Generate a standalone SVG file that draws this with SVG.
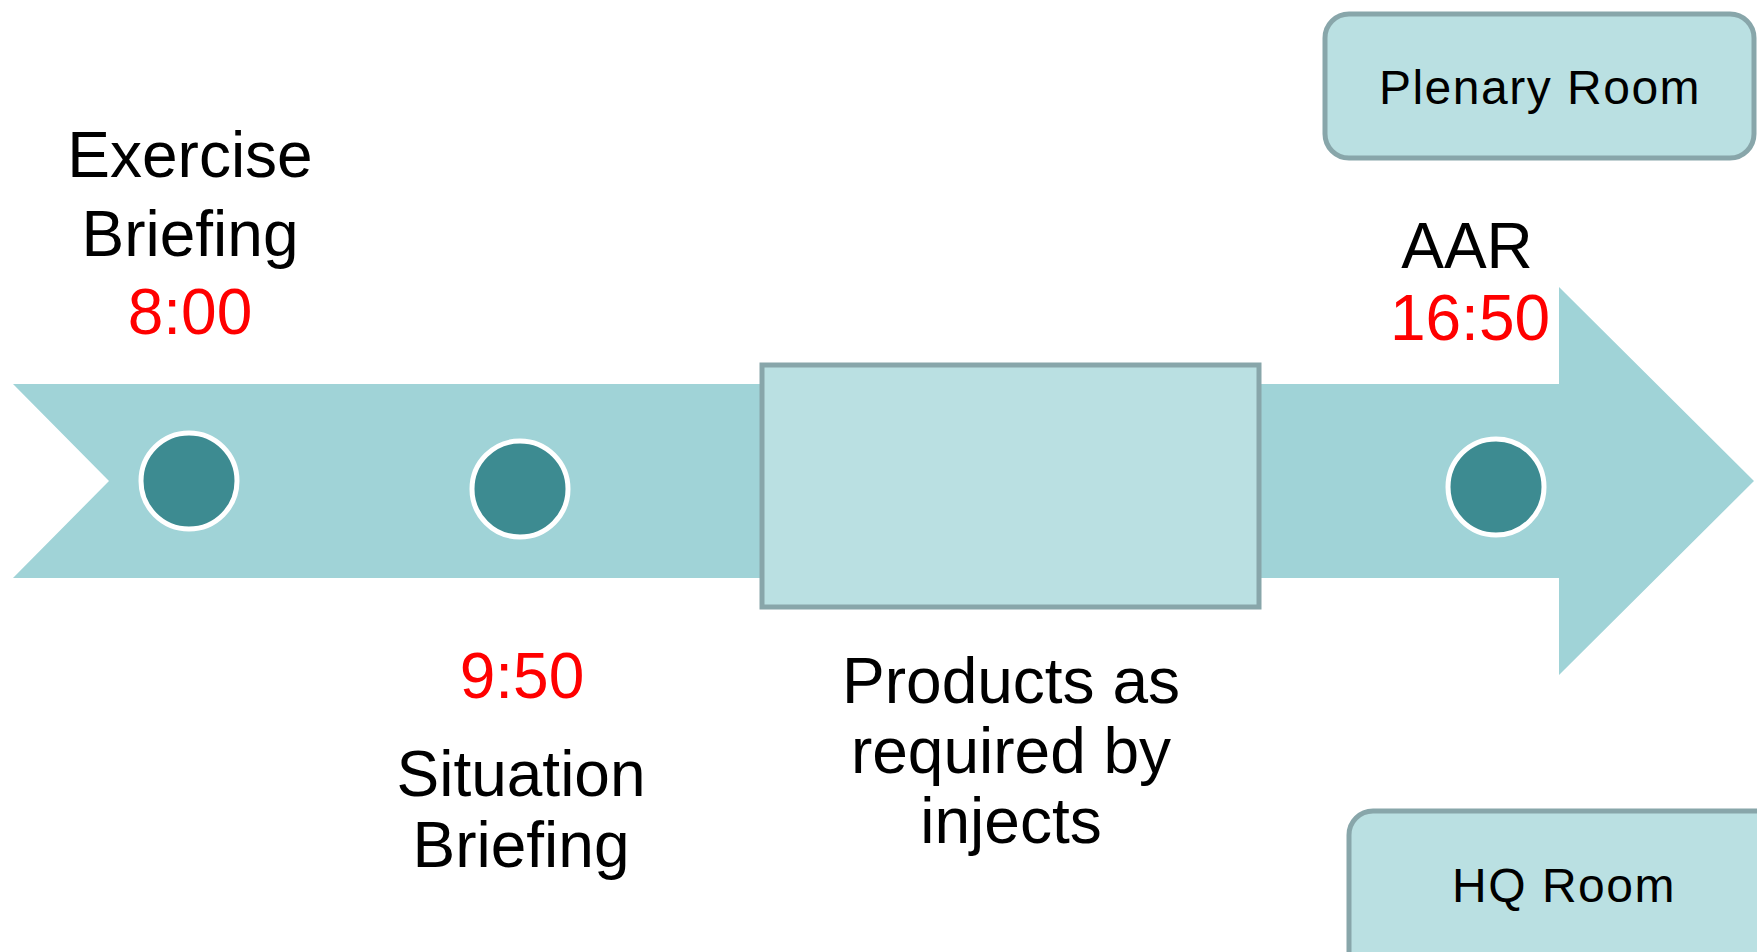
<svg xmlns="http://www.w3.org/2000/svg" width="1757" height="952" viewBox="0 0 1757 952">
<style>
.t{font-family:"Liberation Sans",Arial,sans-serif;font-size:64px;fill:#000;text-anchor:middle}
.r{fill:#FF0000}
.room{font-size:48px;letter-spacing:1.5px}
.box{fill:#BAE0E2;stroke:#88A6AA;stroke-width:5}
.dot{fill:#3D8B91;stroke:#FFFFFF;stroke-width:5}
</style>
<rect width="1757" height="952" fill="#FFFFFF"/>
<g id="arrow">
<polygon points="13,384 1559,384 1559,287 1754,481 1559,675 1559,578 13,578 109,481" fill="#A0D3D7"/>
</g>
<g id="connectors"></g>
<g id="products">
<rect class="box" x="762" y="365" width="497" height="242"/>
<text class="t" x="1011" y="703">Products as</text>
<text class="t" x="1011" y="773">required by</text>
<text class="t" x="1011" y="843">injects</text>
</g>
<g id="exercise-briefing">
<circle class="dot" cx="189" cy="481" r="48"/>
<text class="t" x="190" y="177">Exercise</text>
<text class="t" x="190" y="256">Briefing</text>
<text class="t r" x="190" y="334">8:00</text>
</g>
<g id="situation-briefing">
<circle class="dot" cx="520" cy="489" r="48"/>
<text class="t r" x="522" y="698">9:50</text>
<text class="t" x="521" y="796">Situation</text>
<text class="t" x="521" y="867">Briefing</text>
</g>
<g id="aar">
<circle class="dot" cx="1496" cy="487" r="48"/>
<text class="t" x="1467" y="268">AAR</text>
<text class="t r" x="1470" y="340">16:50</text>
</g>
<g id="plenary-room">
<rect class="box" x="1325" y="14" width="429" height="144" rx="24"/>
<text class="t room" x="1540" y="104">Plenary Room</text>
</g>
<g id="hq-room">
<rect class="box" x="1349" y="811" width="440" height="180" rx="24"/>
<text class="t room" x="1564" y="902">HQ Room</text>
</g>
</svg>
